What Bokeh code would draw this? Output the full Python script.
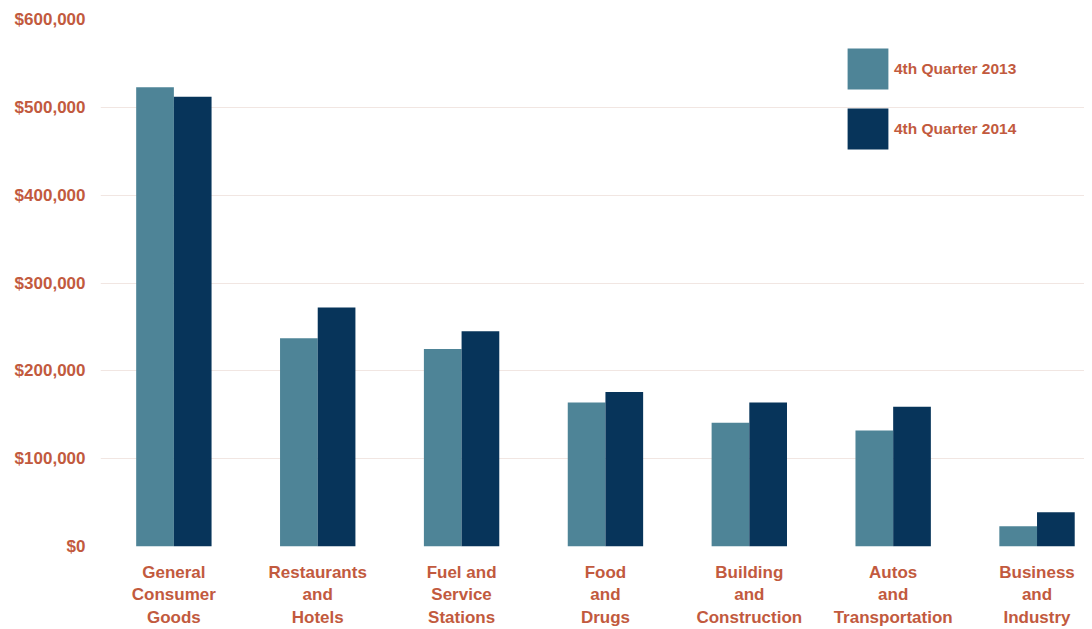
from bokeh.plotting import figure
from bokeh.models import ColumnDataSource, NumeralTickFormatter, FixedTicker, Range1d, Legend, LegendItem
from bokeh.embed import file_html
from bokeh.resources import INLINE

categories = ["General\nConsumer\nGoods", "Restaurants\nand\nHotels", "Fuel and\nService\nStations",
              "Food\nand\nDrugs", "Building\nand\nConstruction", "Autos\nand\nTransportation",
              "Business\nand\nIndustry"]
q4_2013 = [523000, 237000, 225000, 164000, 141000, 132000, 23000]
q4_2014 = [512000, 272000, 245000, 176000, 164000, 159000, 39000]
series_names = ["4th Quarter 2013", "4th Quarter 2014"]
y_ticks = [0, 100000, 200000, 300000, 400000, 500000, 600000]

RED = "#c25a3e"
C13 = "#4e8497"
C14 = "#07345a"

idx = list(range(len(categories)))
bw = 0.262
src = ColumnDataSource(dict(
    x13=[i - bw / 2 for i in idx], x14=[i + bw / 2 for i in idx],
    v13=q4_2013, v14=q4_2014))

p = figure(width=1084, height=630, output_backend="svg", toolbar_location=None,
           x_range=Range1d(-0.51, 6.33), y_range=Range1d(0, 600000),
           min_border_left=100, min_border_right=0, min_border_top=19, min_border_bottom=80)
p.outline_line_color = None
p.background_fill_color = "white"

r13 = p.vbar(x="x13", top="v13", width=bw, source=src, fill_color=C13, line_color=None)
r14 = p.vbar(x="x14", top="v14", width=bw, source=src, fill_color=C14, line_color=None)

p.xaxis.ticker = FixedTicker(ticks=idx)
p.xaxis.major_label_overrides = {i: c for i, c in zip(idx, categories)}
p.yaxis.ticker = FixedTicker(ticks=y_ticks)
p.yaxis.formatter = NumeralTickFormatter(format="$0,0")

for ax in (p.xaxis[0], p.yaxis[0]):
    ax.axis_line_color = None
    ax.major_tick_line_color = None
    ax.minor_tick_line_color = None
    ax.major_label_text_color = RED
    ax.major_label_text_font = "Liberation Sans"
    ax.major_label_text_font_style = "bold"
p.xaxis.major_label_text_font_size = "17px"
p.xaxis.major_label_standoff = 10
p.xaxis.major_label_text_line_height = 1.2
p.yaxis.major_label_text_font_size = "17px"
p.yaxis.major_label_standoff = 9

p.xgrid.grid_line_color = None
p.ygrid.grid_line_color = "#f1e6e2"
p.ygrid.grid_line_width = 1

legend = Legend(items=[LegendItem(label=series_names[0], renderers=[r13]),
                       LegendItem(label=series_names[1], renderers=[r14])],
                location=(742, 392), glyph_width=51, glyph_height=51, spacing=9,
                padding=0, margin=0, label_standoff=1,
                label_text_color=RED, label_text_font="Liberation Sans",
                label_text_font_style="bold", label_text_font_size="15.5px",
                border_line_color=None, background_fill_alpha=0)
p.add_layout(legend)

open("out.html", "w").write(file_html(p, INLINE))
